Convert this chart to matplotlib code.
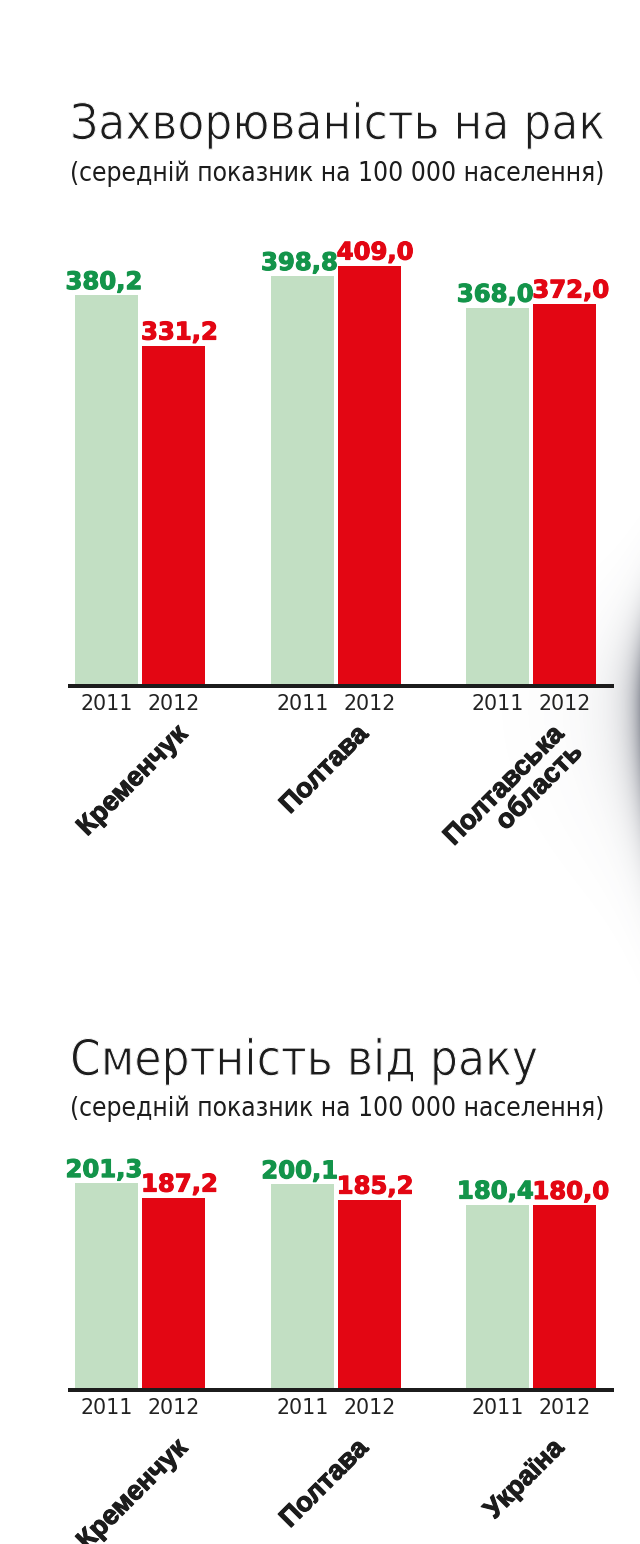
import numpy as np
import matplotlib
matplotlib.use('Agg')
import matplotlib.pyplot as plt
from matplotlib import font_manager
import matplotlib.patheffects as pe

# data
years = ['2011', '2012']
inc_places = ['Кременчук', 'Полтава', 'Полтавська\nобласть']
inc_2011 = [380.2, 398.8, 368.0]
inc_2012 = [331.2, 409.0, 372.0]
mort_places = ['Кременчук', 'Полтава', 'Україна']
mort_2011 = [201.3, 200.1, 180.4]
mort_2012 = [187.2, 185.2, 180.0]
inc_title = 'Захворюваність на рак'
mort_title = 'Смертність від раку'
subtitle = '(середній показник на 100 000 населення)'

# colours
light_green = '#c2dfc3'
red = '#e30613'
green_txt = '#13944a'
dark = '#1c1c1c'

# pick a narrow face for the titles if one is there
fonts = font_manager.fontManager.ttflist
names = {f.name for f in fonts}
cond_dejavu = any(f.name == 'DejaVu Sans' and 'condensed' in str(f.stretch) for f in fonts)
if 'Liberation Sans Narrow' in names:
    title_font = dict(family='Liberation Sans Narrow')
elif cond_dejavu:
    title_font = dict(family='DejaVu Sans', stretch='condensed')
else:
    title_font = dict(family='Roboto', weight='light')
cat_family = 'Liberation Sans' if 'Liberation Sans' in names else 'DejaVu Sans'

# thin strokes (light look) and heavier strokes (black look)
thin = [pe.Normal(), pe.Stroke(linewidth=0.75, foreground='white')]
heavy_dark = [pe.withStroke(linewidth=0.8, foreground=dark)]

W, H = 640, 1544
fig = plt.figure(figsize=(W / 100, H / 100), dpi=100)
fig.patch.set_facecolor('white')

# soft grey shadow on the right edge
bg = fig.add_axes([0, 0, 1, 1], zorder=-5)
yy, xx = np.mgrid[0:H, 0:W]
u = W - xx
spread = np.where(yy < 700, 85.0, 125.0)
amp = 0.6 * np.exp(-((yy - 705) / spread) ** 2)
shade = amp * (0.75 * np.exp(-u / 11.0) + 0.25 * np.exp(-u / 38.0))
img = np.zeros((H, W, 4))
img[..., 0], img[..., 1], img[..., 2] = 0.30, 0.32, 0.38
img[..., 3] = shade
bg.imshow(img, extent=(0, W, H, 0), aspect='auto')
bg.set_xlim(0, W)
bg.set_ylim(H, 0)
bg.axis('off')

px_per_unit = 1.028
x = np.arange(3)
off = 0.171
bw = 0.322
PT = 0.72  # points per pixel at dpi 100
cat_nudge = [15, 0, 0]  # extra shift (px) of the slanted labels


def fmt(v):
    return f'{v:.1f}'.replace('.', ',')


def draw_chart(base_px, height_px, v11, v12, places, cat_drop):
    ax = fig.add_axes([70 / W, 1 - base_px / H, 542 / W, height_px / H])
    ax.set_xlim(-0.358, 2.412)
    ax.set_ylim(0, height_px / px_per_unit)
    ax.axis('off')
    ax.bar(x - off, v11, bw, color=light_green, zorder=2)
    ax.bar(x + off, v12, bw, color=red, zorder=2)
    ax.axhline(0, color=dark, lw=4 * PT, clip_on=False, zorder=3)
    for i in range(3):
        ax.annotate(fmt(v11[i]), (x[i] - off + bw / 2, v11[i]),
                    xytext=(4 * PT, 6 * PT), textcoords='offset points',
                    ha='right', va='baseline', color=green_txt,
                    fontsize=17.5, fontweight='bold', family='DejaVu Sans',
                    path_effects=[pe.withStroke(linewidth=0.8, foreground=green_txt)])
        ax.annotate(fmt(v12[i]), (x[i] + off - bw / 2, v12[i]),
                    xytext=(-1 * PT, 6 * PT), textcoords='offset points',
                    ha='left', va='baseline', color=red,
                    fontsize=17.5, fontweight='bold', family='DejaVu Sans',
                    path_effects=[pe.withStroke(linewidth=0.8, foreground=red)])
        for xo, yr in zip((-off, off), years):
            ax.annotate(yr, (x[i] + xo, 0), xytext=(0, -18 * PT),
                        textcoords='offset points', ha='center', va='center',
                        color='#222222', fontsize=14.8, family='DejaVu Sans',
                        annotation_clip=False)
        ax.annotate(places[i], (x[i] + off, 0),
                    xytext=((cat_nudge[i] - 14) * PT, -cat_drop * PT),
                    textcoords='offset points', ha='right', va='top',
                    rotation=45, rotation_mode='anchor', multialignment='right',
                    color=dark, fontsize=19.5, fontweight='bold', family=cat_family,
                    linespacing=1.0, path_effects=heavy_dark, annotation_clip=False)
    return ax


def fit(t, target_px):
    fig.canvas.draw()
    w = t.get_window_extent(fig.canvas.get_renderer()).width
    t.set_fontsize(t.get_fontsize() * target_px / w)


draw_chart(686, 450, inc_2011, inc_2012, inc_places, 35)
draw_chart(1390, 240, mort_2011, mort_2012, mort_places, 45)

t1 = fig.text(70 / W, 1 - 139 / H, inc_title, ha='left', va='baseline',
              color=dark, fontsize=44, path_effects=thin, **title_font)
s1 = fig.text(70 / W, 1 - 181 / H, subtitle, ha='left', va='baseline',
              color=dark, fontsize=20, **title_font)
t2 = fig.text(70 / W, 1 - 1075 / H, mort_title, ha='left', va='baseline',
              color=dark, fontsize=44, path_effects=thin, **title_font)
s2 = fig.text(70 / W, 1 - 1116 / H, subtitle, ha='left', va='baseline',
              color=dark, fontsize=20, **title_font)
fit(t1, 535)
fit(s1, 535)
fit(t2, 468)
fit(s2, 535)

fig.savefig('out.png', dpi=100, facecolor='white')
